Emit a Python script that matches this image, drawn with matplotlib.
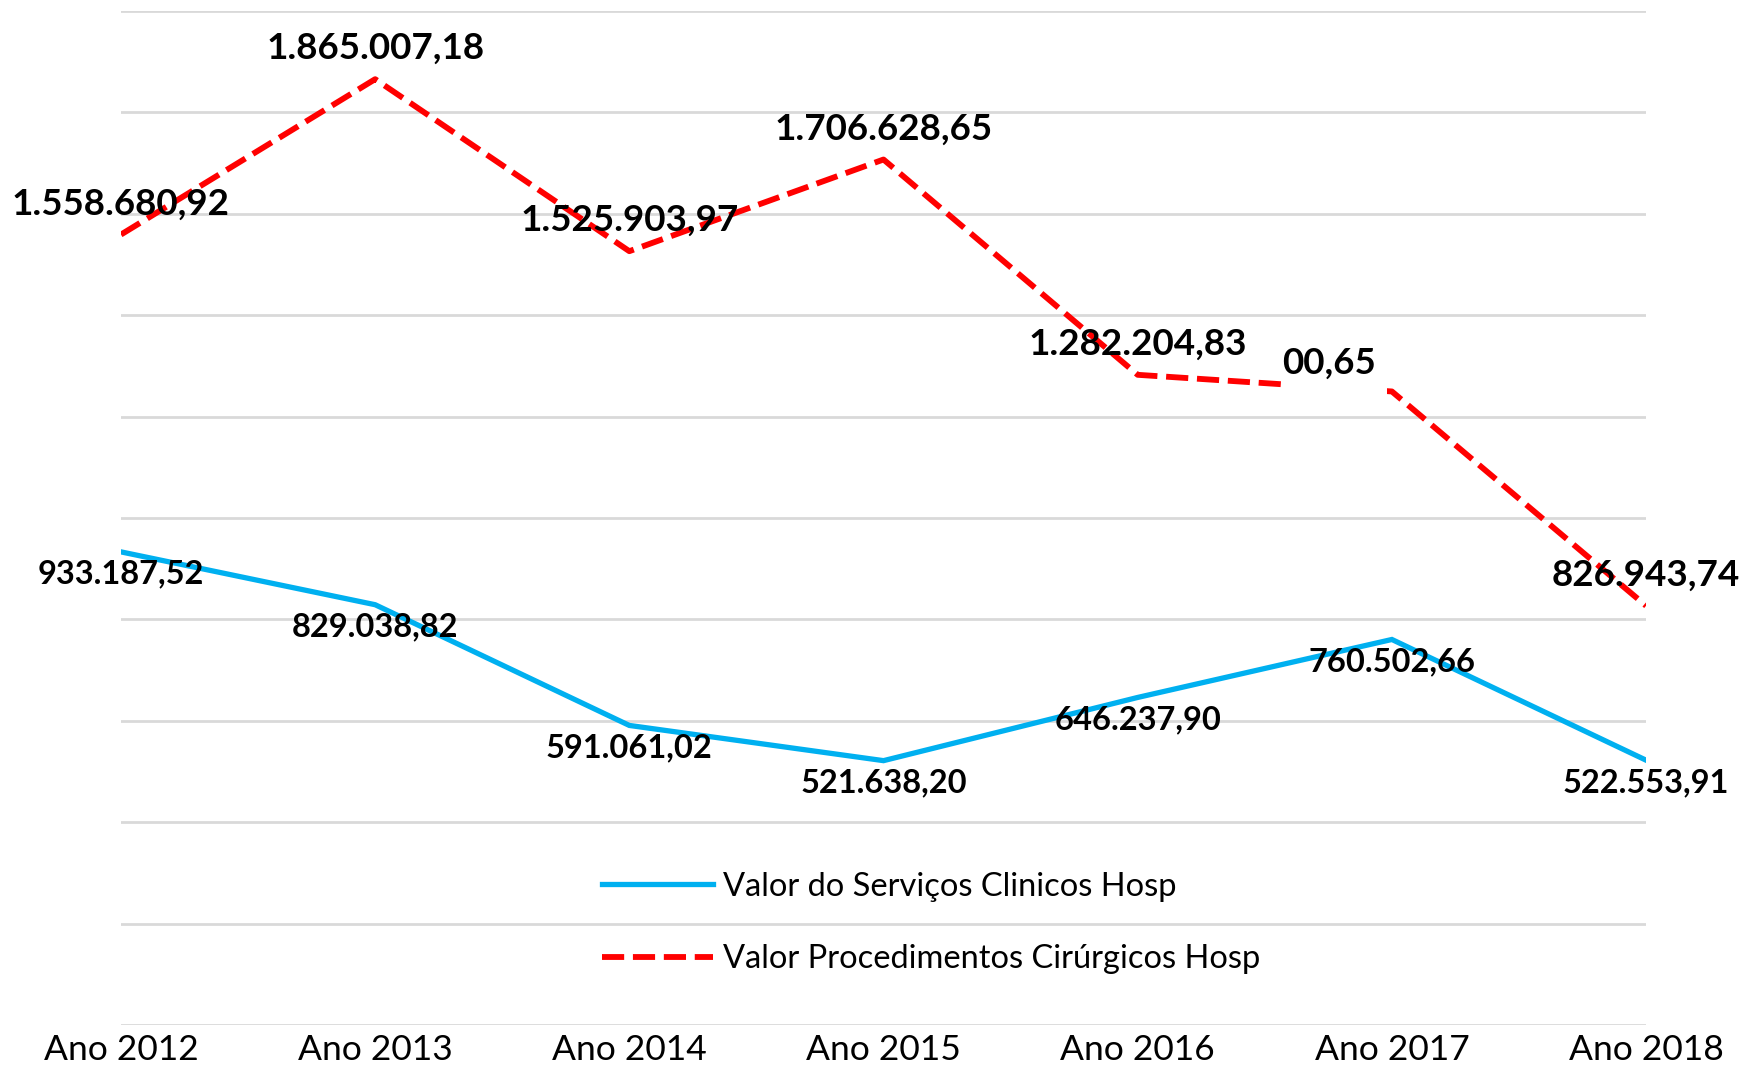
import matplotlib
matplotlib.use("Agg")
import matplotlib.pyplot as plt
from matplotlib.patches import Rectangle

categories = ["Ano 2012", "Ano 2013", "Ano 2014", "Ano 2015", "Ano 2016", "Ano 2017", "Ano 2018"]
clinicos = [933187.52, 829038.82, 591061.02, 521638.20, 646237.90, 760502.66, 522553.91]
cirurgicos = [1558680.92, 1865007.18, 1525903.97, 1706628.65, 1282204.83, 1249400.65, 826943.74]
series_names = ["Valor do Serviços Clinicos Hosp", "Valor Procedimentos Cirúrgicos Hosp"]
clinicos_labels = ["933.187,52", "829.038,82", "591.061,02", "521.638,20", "646.237,90", "760.502,66", "522.553,91"]
cirurgicos_labels = ["1.558.680,92", "1.865.007,18", "1.525.903,97", "1.706.628,65", "1.282.204,83", "00,65", "826.943,74"]

plt.rcParams['font.family'] = ['Lato', 'DejaVu Sans']

fig = plt.figure(figsize=(17.53, 10.68), dpi=100)
ax = fig.add_axes([0.069, 0.040, 0.870, 0.950])
x = list(range(len(categories)))

ax.set_xlim(0, 6)
ax.set_ylim(0, 2000000)
for v in range(0, 2000001, 200000):
    ax.axhline(v, color="#d9d9d9", lw=2.0, zorder=1)

l1, = ax.plot(x, clinicos, color="#00b0f0", lw=3.8, zorder=3, solid_joinstyle="miter")
l2, = ax.plot(x, cirurgicos, color="#ff0000", lw=4.2, zorder=3, dashes=(3.8, 1.5), dash_capstyle="butt")

# white area hiding part of the 2017 label and the line (as in the reference)
ax.add_patch(Rectangle((4.585, 1227000), 0.395, 130000, facecolor="white", edgecolor="none", zorder=4))

for i in x:
    ax.annotate(clinicos_labels[i], (i, clinicos[i]), xytext=(0, -16), textcoords="offset points",
                ha="center", va="center", fontsize=23.5, fontweight="bold", zorder=5,
                annotation_clip=False)
    if i == 5:
        ax.annotate(cirurgicos_labels[i], (4.57, cirurgicos[i]), xytext=(0, 20), textcoords="offset points",
                    ha="left", va="center", fontsize=26.5, fontweight="bold", zorder=5,
                    annotation_clip=False)
    else:
        ax.annotate(cirurgicos_labels[i], (i, cirurgicos[i]), xytext=(0, 22), textcoords="offset points",
                    ha="center", va="center", fontsize=26.5, fontweight="bold", zorder=5,
                    annotation_clip=False)

ax.set_xticks(x)
ax.set_xticklabels(categories, fontsize=25.5)
ax.tick_params(axis="x", length=0, pad=6)
ax.set_yticks([])
for s in ax.spines.values():
    s.set_visible(False)

leg = ax.legend([l1, l2], series_names, loc="center", bbox_to_anchor=(0.531, 0.101),
                frameon=False, fontsize=23.5, handlelength=3.4, handletextpad=0.3,
                labelspacing=1.3)

fig.savefig("out.png", dpi=100, facecolor="white")
